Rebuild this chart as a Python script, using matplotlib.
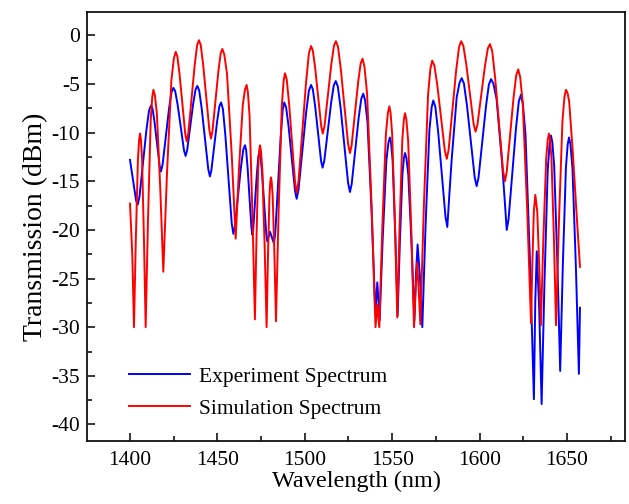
import matplotlib
matplotlib.use("Agg")
import matplotlib.pyplot as plt
from matplotlib.ticker import MultipleLocator

# Experiment spectrum (blue)
exp_wl = [1400.0, 1402.3, 1403.5, 1404.43, 1405.42, 1406.72, 1409.38, 1410.91, 1412.05,
          1412.90, 1414.03, 1416.01, 1416.97, 1417.71, 1418.63, 1419.84, 1422.33, 1423.75,
          1424.82, 1425.87, 1427.27, 1429.72, 1430.91, 1431.82, 1432.69, 1433.83, 1436.17,
          1437.51, 1438.51, 1439.59, 1441.03, 1443.56, 1444.78, 1445.72, 1446.55, 1447.64,
          1449.87, 1451.15, 1452.11, 1453.16, 1454.56, 1457.01, 1458.20, 1459.11, 1459.98,
          1461.12, 1463.46, 1464.80, 1465.80, 1466.43, 1467.28, 1468.75, 1469.47, 1470.02,
          1470.54, 1471.23, 1472.63, 1473.44, 1474.04, 1474.72, 1475.63, 1477.21, 1477.98,
          1478.57, 1480.11, 1482.38, 1483.14, 1484.14, 1486.20, 1487.37, 1488.25, 1489.32,
          1490.74, 1493.22, 1494.43, 1495.35, 1496.42, 1497.82, 1500.71, 1502.35, 1503.59,
          1504.58, 1505.90, 1508.20, 1509.32, 1510.18, 1511.16, 1512.44, 1515.07, 1516.57,
          1517.70, 1518.92, 1520.55, 1523.40, 1524.78, 1525.84, 1526.83, 1528.13, 1530.79,
          1532.32, 1533.46, 1534.50, 1535.88, 1538.29, 1539.46, 1540.36, 1541.49, 1542.83,
          1543.59, 1544.59, 1546.65, 1547.82, 1548.70, 1549.36, 1550.25, 1551.79, 1552.55,
          1553.12, 1553.67, 1554.39, 1555.87, 1556.72, 1557.35, 1558.15, 1559.22, 1561.10,
          1562.00, 1562.70, 1563.6, 1564.55, 1565.9, 1567.23, 1568.05, 1569.11, 1571.31,
          1572.57, 1573.51, 1574.71, 1576.32, 1579.13, 1580.50, 1581.54, 1582.61, 1584.01,
          1586.90, 1588.54, 1589.78, 1591.06, 1592.77, 1595.77, 1597.22, 1598.33, 1599.40,
          1600.80, 1603.69, 1605.33, 1606.57, 1607.91, 1609.71, 1612.84, 1614.37, 1615.53,
          1616.59, 1617.97, 1620.81, 1622.44, 1623.66, 1624.77, 1626.26, 1628.85, 1630.12,
          1631.08, 1631.85, 1632.72, 1634.1, 1635.50, 1636.20, 1637.11, 1638.98, 1640.06,
          1640.86, 1641.65, 1642.70, 1644.54, 1645.43, 1646.11, 1646.77, 1647.62, 1649.39,
          1650.40, 1651.16, 1652.01, 1653.14, 1655.12, 1656.08, 1656.82, 1657.44]
exp_db = [-12.8, -15.6, -17.0, -17.4, -16.58, -14.34, -9.75, -7.71, -7.2,
          -7.54, -8.9, -11.96, -13.46, -14.0, -13.31, -11.42, -7.55, -5.83,
          -5.4, -5.75, -7.15, -10.3, -11.84, -12.4, -11.82, -10.24, -7.0,
          -5.56, -5.2, -5.67, -7.53, -11.71, -13.76, -14.5, -13.89, -12.22,
          -8.8, -7.28, -6.9, -7.58, -10.28, -16.35, -19.32, -20.4, -19.67,
          -17.67, -13.58, -11.76, -11.3, -11.76, -13.6, -17.74, -19.76, -20.5,
          -19.82, -17.95, -14.13, -12.43, -12.0, -12.46, -14.3, -18.44, -20.46,
          -21.2, -20.2, -21.4, -20.24, -17.05, -10.53, -7.63, -6.9, -7.4,
          -9.38, -13.83, -16.01, -16.8, -15.86, -13.29, -8.03, -5.69, -5.1,
          -5.53, -7.23, -11.05, -12.92, -13.6, -12.89, -10.93, -6.93, -5.15,
          -4.7, -5.27, -7.55, -12.68, -15.19, -16.1, -15.29, -13.07, -8.53,
          -6.51, -6.0, -6.68, -8.94, -18.43, -24.08, -28.6, -25.4, -29.3,
          -25.54, -20.84, -12.94, -11.06, -10.5, -11.05, -12.88, -20.57, -25.14,
          -28.8, -25.46, -21.29, -14.27, -12.6, -12.1, -12.62, -14.34, -21.56,
          -25.86, -29.3, -24.6, -21.5, -24.9, -30.0, -25.34, -19.52, -9.73,
          -7.4, -6.7, -7.35, -9.95, -15.8, -18.66, -19.7, -16.64, -12.82,
          -6.39, -4.86, -4.4, -4.96, -7.18, -12.17, -14.61, -15.5, -14.62,
          -12.2, -7.25, -5.05, -4.5, -4.97, -6.52, -13.03, -16.9, -20.0,
          -18.89, -15.83, -9.58, -6.8, -6.1, -7.04, -10.17, -23.32, -31.14,
          -37.4, -27.5, -22.2, -28.0, -37.9, -32.38, -25.48, -13.89, -11.13,
          -10.3, -11.03, -13.45, -23.61, -29.66, -34.5, -29.7, -23.7, -13.62,
          -11.22, -10.5, -11.23, -13.66, -23.87, -29.94, -34.8, -28.0]

# Simulation spectrum (red)
sim_wl = [1400.0, 1401.3, 1402.27, 1402.72, 1403.32, 1404.54, 1405.24, 1405.77, 1406.25,
          1406.89, 1408.00, 1408.55, 1408.96, 1409.54, 1410.29, 1411.84, 1412.73, 1413.39,
          1414.24, 1415.37, 1417.35, 1418.31, 1419.05, 1419.97, 1421.18, 1423.67, 1425.09,
          1426.16, 1427.10, 1428.36, 1430.56, 1431.62, 1432.44, 1433.35, 1434.54, 1436.99,
          1438.39, 1439.44, 1440.48, 1441.86, 1444.27, 1445.44, 1446.34, 1447.18, 1448.29,
          1450.56, 1451.86, 1452.83, 1453.97, 1455.50, 1458.16, 1459.46, 1460.45, 1461.27,
          1462.33, 1464.53, 1465.79, 1466.73, 1467.44, 1468.39, 1470.04, 1470.85, 1471.46,
          1471.84, 1472.33, 1473.34, 1473.92, 1474.35, 1474.92, 1475.68, 1477.02, 1477.66,
          1478.16, 1478.48, 1478.90, 1479.77, 1480.26, 1480.63, 1481.06, 1481.64, 1482.65,
          1483.14, 1483.51, 1484.18, 1485.05, 1486.86, 1487.89, 1488.66, 1489.66, 1491.00,
          1493.34, 1494.48, 1495.35, 1496.42, 1497.82, 1500.71, 1502.35, 1503.59, 1504.59,
          1505.94, 1508.28, 1509.42, 1510.29, 1511.27, 1512.54, 1515.17, 1516.67, 1517.80,
          1519.01, 1520.61, 1523.43, 1524.79, 1525.84, 1526.78, 1528.00, 1530.52, 1531.96,
          1533.04, 1534.15, 1535.64, 1538.23, 1539.50, 1540.46, 1541.49, 1542.62, 1543.37,
          1544.35, 1546.37, 1547.52, 1548.39, 1549.07, 1549.98, 1551.56, 1552.33, 1552.92,
          1553.50, 1554.25, 1555.80, 1556.69, 1557.35, 1558.12, 1559.15, 1560.95, 1561.82,
          1562.49, 1563.4, 1564.25, 1565.2, 1566.10, 1566.98, 1568.14, 1570.52, 1571.88,
          1572.90, 1574.15, 1575.82, 1578.74, 1580.16, 1581.24, 1582.31, 1583.71, 1586.59,
          1588.24, 1589.47, 1590.71, 1592.35, 1595.24, 1596.64, 1597.71, 1598.78, 1600.18,
          1603.07, 1604.71, 1605.95, 1607.23, 1608.94, 1611.94, 1613.39, 1614.50, 1615.49,
          1616.79, 1619.45, 1620.98, 1622.12, 1623.22, 1624.68, 1627.24, 1628.48, 1629.43,
          1630.17, 1631.04, 1631.90, 1633.02, 1634.13, 1635.09, 1635.69, 1636.48, 1638.11,
          1639.03, 1639.73, 1640.33, 1641.13, 1642.54, 1643.22, 1643.74, 1644.48, 1645.44,
          1647.43, 1648.56, 1649.41, 1650.3, 1651.26, 1653.32, 1655.38, 1657.44]
sim_db = [-17.3, -22.5, -30.0, -26.02, -21.05, -12.69, -10.7, -10.1, -10.7,
          -12.69, -21.05, -26.02, -30.0, -25.12, -19.02, -8.77, -6.33, -5.6,
          -6.16, -8.03, -15.89, -20.56, -24.3, -19.78, -14.13, -4.64, -2.38,
          -1.7, -2.16, -4.0, -8.14, -10.16, -10.9, -10.07, -7.78, -3.1,
          -1.02, -0.5, -1.0, -3.03, -7.57, -9.79, -10.6, -9.86, -7.84,
          -3.7, -1.86, -1.4, -1.99, -3.94, -12.13, -17.0, -20.9, -17.74,
          -13.79, -7.15, -5.57, -5.1, -5.82, -8.23, -18.36, -24.38, -29.2,
          -25.62, -21.15, -13.63, -11.84, -11.3, -11.86, -13.73, -21.59, -26.26,
          -30.0, -26.92, -23.07, -16.6, -15.06, -14.6, -15.04, -16.52, -22.74,
          -26.44, -29.4, -24.3, -17.93, -7.22, -4.67, -3.9, -4.52, -6.98,
          -12.51, -15.22, -16.2, -14.99, -11.67, -4.88, -1.86, -1.1, -1.55,
          -3.35, -7.4, -9.38, -10.1, -9.34, -7.25, -2.98, -1.08, -0.6,
          -1.18, -3.48, -8.65, -11.18, -12.1, -11.32, -9.19, -4.83, -2.89,
          -2.4, -3.23, -5.99, -17.58, -24.48, -30.0, -27.7, -30.0, -25.46,
          -19.79, -10.25, -7.98, -7.3, -7.95, -10.12, -19.24, -24.66, -29.0,
          -24.8, -19.55, -10.73, -8.63, -8.0, -8.66, -10.86, -20.1, -25.6,
          -30.0, -26.2, -23.4, -26.2, -29.7, -24.28, -17.5, -6.12, -3.41,
          -2.6, -3.11, -5.13, -9.67, -11.89, -12.7, -11.73, -9.07, -3.63,
          -1.21, -0.6, -1.07, -2.93, -7.11, -9.16, -9.9, -9.18, -7.2,
          -3.15, -1.35, -0.9, -1.61, -4.43, -10.77, -13.87, -15.0, -14.08,
          -11.55, -6.38, -4.08, -3.5, -4.28, -6.89, -17.86, -24.38, -29.6,
          -23.66, -18.12, -16.4, -18.14, -23.77, -29.8, -25.86, -20.94, -12.66,
          -10.69, -10.1, -10.69, -12.66, -20.94, -25.86, -29.8, -24.96, -18.91,
          -8.75, -6.33, -5.6, -5.9, -6.8, -12.0, -18.0, -23.8]

series_labels = ["Experiment Spectrum", "Simulation Spectrum"]
x_label = "Wavelength (nm)"
y_label = "Transmission (dBm)"

plt.rcParams['font.family'] = ['Liberation Serif', 'DejaVu Serif']
plt.rcParams['axes.unicode_minus'] = False

fig = plt.figure(figsize=(6.29, 5.04), dpi=100)
ax = fig.add_axes([87/629, 1-441/504, (625-87)/629, (441-12)/504])

ax.plot(exp_wl, exp_db, color='#0000ff', lw=1.4, label=series_labels[0])
ax.plot(sim_wl, sim_db, color='#ff0000', lw=1.4, label=series_labels[1])

ax.set_xlim(1375.4, 1683.2)
ax.set_ylim(-41.7, 2.4)
ax.xaxis.set_major_locator(MultipleLocator(50))
ax.xaxis.set_minor_locator(MultipleLocator(25))
ax.yaxis.set_major_locator(MultipleLocator(5))
ax.yaxis.set_minor_locator(MultipleLocator(2.5))
ax.tick_params(which='both', direction='in', top=False, right=False, labelsize=15.5, colors='black')
ax.tick_params(which='major', length=6, width=1.1)
ax.tick_params(which='minor', length=3.5, width=1.1)
ax.tick_params(axis='x', pad=7)
ax.tick_params(axis='y', pad=5)
for s in ax.spines.values():
    s.set_linewidth(1.3)
    s.set_color('#111111')

ax.set_xlabel(x_label, fontsize=17.5, labelpad=1)
ax.set_ylabel(y_label, fontsize=20, labelpad=2)

leg = ax.legend(loc='upper left', bbox_to_anchor=(0.078, 0.173), frameon=False,
                fontsize=15.5, handlelength=2.85, handletextpad=0.4,
                labelspacing=0.55, borderpad=0, borderaxespad=0)

fig.savefig('out.png', dpi=100)
